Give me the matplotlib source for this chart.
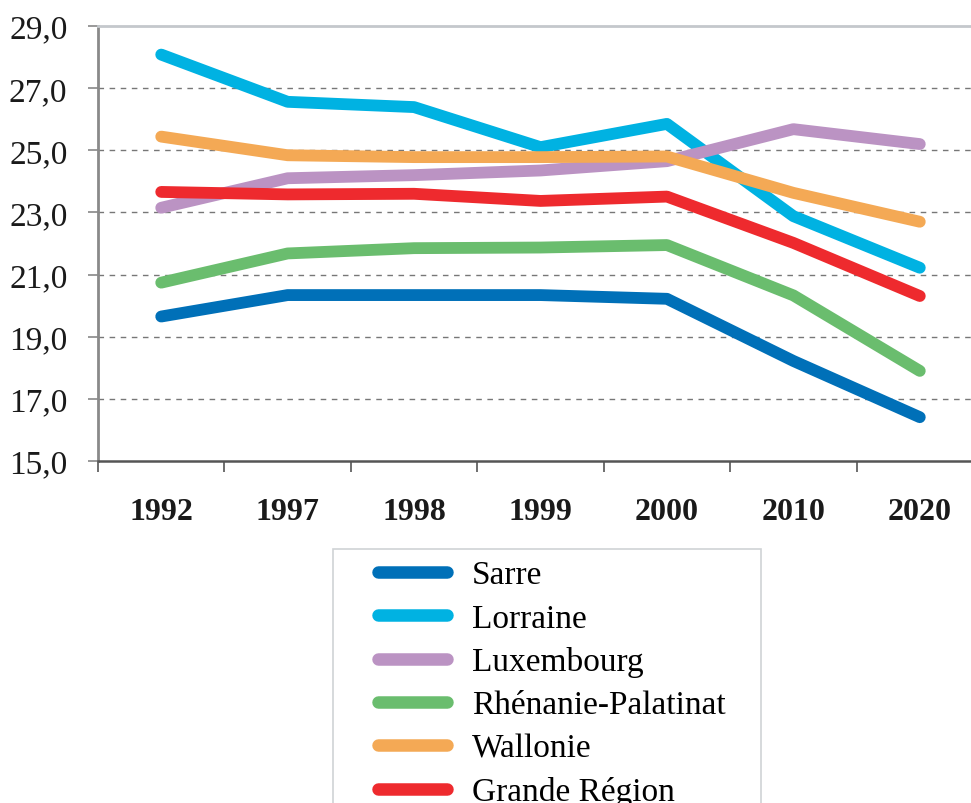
import matplotlib
matplotlib.use('Agg')
import matplotlib.pyplot as plt
from matplotlib.patches import Rectangle
from matplotlib.ticker import FuncFormatter, FixedLocator

# données
annees = ['1992', '1997', '1998', '1999', '2000', '2010', '2020']
sarre = [19.65, 20.34, 20.34, 20.34, 20.22, 18.22, 16.41]
lorraine = [28.08, 26.56, 26.39, 25.10, 25.85, 22.88, 21.22]
luxembourg = [23.15, 24.10, 24.20, 24.35, 24.65, 25.68, 25.20]
rhenanie = [20.74, 21.68, 21.85, 21.87, 21.95, 20.33, 17.90]
wallonie = [25.44, 24.84, 24.78, 24.78, 24.80, 23.63, 22.70]
grande_region = [23.66, 23.58, 23.60, 23.37, 23.51, 22.02, 20.31]

series = [
    ('Sarre', sarre, '#0070b8'),
    ('Lorraine', lorraine, '#00b2e2'),
    ('Luxembourg', luxembourg, '#bb93c3'),
    ('Rhénanie-Palatinat', rhenanie, '#6abd6e'),
    ('Wallonie', wallonie, '#f4a955'),
    ('Grande Région', grande_region, '#ee2a2e'),
]

plt.rcParams['font.family'] = ['Liberation Serif', 'DejaVu Serif']

fig = plt.figure(figsize=(9.71, 8.04), dpi=100)
ax = fig.add_axes([98 / 971, 1 - 462 / 804, 885 / 971, 435 / 804])

x = list(range(len(annees)))
for nom, vals, couleur in series:
    ax.plot(x, vals, color=couleur, lw=8.5, label=nom,
            solid_capstyle='round', solid_joinstyle='round')

ax.set_xlim(-0.5, len(annees) - 0.5)
ax.set_ylim(15, 29)

# axe y
ax.set_yticks(range(15, 30, 2))
ax.yaxis.set_major_formatter(FuncFormatter(lambda v, p: ('%.1f' % v).replace('.', ',')))
ax.tick_params(axis='y', direction='out', length=7, width=1.2, color='#888888',
               labelsize=24, pad=15, labelcolor='#1a1a1a')
for yv in range(17, 29, 2):
    ax.axhline(yv, color='#777777', lw=1, ls=(0, (4, 4)), zorder=0)

# axe x : graduations aux limites, étiquettes au centre
ax.xaxis.set_major_locator(FixedLocator([i - 0.5 for i in range(len(annees) + 1)]))
ax.xaxis.set_major_formatter(FuncFormatter(lambda v, p: ''))
ax.xaxis.set_minor_locator(FixedLocator(x))
ax.set_xticklabels(annees, minor=True, fontsize=23, fontweight='bold', color='#1a1a1a')
ax.tick_params(axis='x', which='major', direction='out', length=8, width=1.2, color='#555555')
ax.tick_params(axis='x', which='minor', length=0, pad=26)

ax.spines['right'].set_visible(False)
ax.spines['top'].set_color('#c4c8cc')
ax.spines['top'].set_linewidth(2)
ax.spines['left'].set_color('#8a8a8a')
ax.spines['left'].set_linewidth(2)
ax.spines['bottom'].set_color('#555555')
ax.spines['bottom'].set_linewidth(1.8)

# légende
fig.patches.append(Rectangle((333 / 971, -0.05), 428 / 971, 1 - 550 / 804 + 0.05,
                             transform=fig.transFigure, fill=False,
                             edgecolor='#d0d3d6', lw=1.2))
leg = fig.legend(loc='upper left', bbox_to_anchor=(378 / 971, 1 - 561 / 804),
                 frameon=False, fontsize=24, handlelength=2.07, handletextpad=0.75,
                 labelspacing=0.38, borderaxespad=0, borderpad=0)
for h in leg.get_lines():
    h.set_linewidth(9)
    h.set_solid_capstyle('round')

fig.savefig('out.png', dpi=100)
